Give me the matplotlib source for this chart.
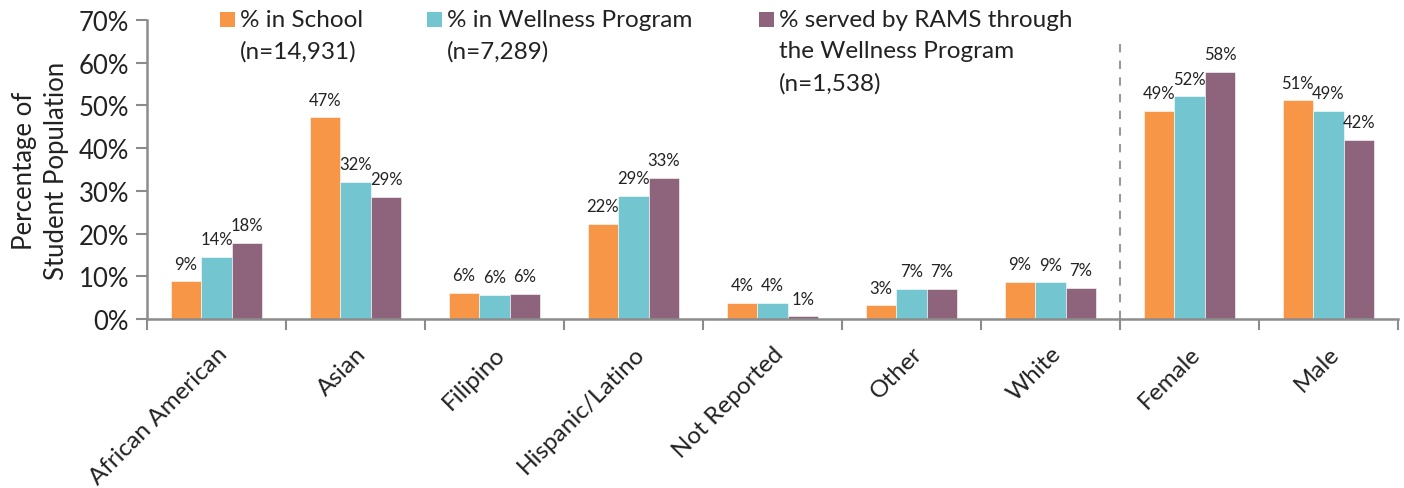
import matplotlib
matplotlib.use("Agg")
import matplotlib.pyplot as plt
import numpy as np
from matplotlib.patches import Rectangle

plt.rcParams['font.family'] = ['Lato', 'DejaVu Sans']

categories = ["African American", "Asian", "Filipino", "Hispanic/Latino",
              "Not Reported", "Other", "White", "Female", "Male"]
school = [8.8, 47.2, 6.1, 22.2, 3.7, 3.2, 8.7, 48.7, 51.2]
wellness = [14.5, 32.1, 5.6, 28.8, 3.7, 7.0, 8.6, 52.1, 48.7]
rams = [17.8, 28.6, 5.9, 33.0, 0.6, 7.0, 7.3, 57.9, 41.9]
series_names = ["% in School\n(n=14,931)",
                "% in Wellness Program\n(n=7,289)",
                "% served by RAMS through\nthe Wellness Program\n(n=1,538)"]
colors = ["#F79646", "#73C6CF", "#8E647D"]
yticks = [0, 10, 20, 30, 40, 50, 60, 70]

W, H = 1404, 489
fig = plt.figure(figsize=(W/100, H/100), dpi=100)
ax = fig.add_axes([147/W, 1-320/H, (1398-147)/W, (320-21)/H])

x = np.arange(len(categories))
bw = 0.22
gray = "#8C8C8C"
for i, (vals, c) in enumerate(zip([school, wellness, rams], colors)):
    pos = x + (i-1)*bw
    ax.bar(pos, vals, width=bw, color=c, edgecolor="white", linewidth=0.4)
    for p, v in zip(pos, vals):
        ax.annotate(f"{round(v):.0f}%", (p, v), xytext=(0, 7), textcoords="offset points",
                    ha="center", va="bottom", fontsize=12, color="#222222")

ax.set_xlim(-0.5, len(categories)-0.5)
ax.set_ylim(0, 70)
ax.set_yticks(yticks)
ax.set_yticklabels([f"{t}%" for t in yticks], fontsize=18.5, color="#222222")
ax.set_xticks(x)
ax.set_xticklabels(categories, rotation=45, ha="right", rotation_mode="anchor",
                   fontsize=17.5, color="#222222")
ax.tick_params(axis="x", length=0, pad=17)
ax.set_xticks(np.arange(-0.5, len(categories)), minor=True)
ax.tick_params(axis="x", which="minor", length=8, width=1.5, color=gray, direction="out")
ax.tick_params(axis="y", length=8, width=1.5, color=gray, direction="out", pad=5)
for s in ["top", "right"]:
    ax.spines[s].set_visible(False)
for s in ["left", "bottom"]:
    ax.spines[s].set_color(gray)
    ax.spines[s].set_linewidth(1.8)

ax.plot([6.5, 6.5], [0, 64.8], ls=(0, (4, 4)), color="#999999", lw=1.5, clip_on=False)

ax.set_ylabel("Percentage of\nStudent Population", fontsize=18.5, color="#222222",
              labelpad=7, linespacing=1.35)

# legend
leg_x = [220, 427, 759]
for lx, c, name in zip(leg_x, colors, series_names):
    fig.patches.append(Rectangle((lx/W, 1-28/H), 15/W, 15/H, transform=fig.transFigure,
                                 facecolor=c, edgecolor="none"))
    fig.text((lx+20)/W, 1-10/H, name, ha="left", va="top", fontsize=17.5,
             color="#222222", linespacing=1.6)

fig.savefig("out.png", dpi=100)
